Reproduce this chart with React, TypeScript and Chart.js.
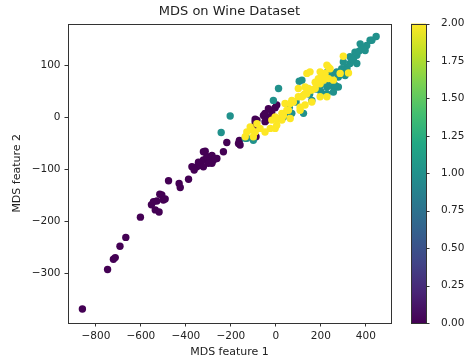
import React, { useEffect, useRef } from 'react';
import { Chart, registerables } from 'chart.js';

Chart.register(...registerables);

// ---- data ----
const classValues = [0, 1, 2];

const class0X = [-860, -748, -722, -714, -693, -667, -602, -553, -516, -536, -519, -529, -507, -500, -492, -544, -477, -430, -425, -388, -373, -351, -336, -322, -314, -300, -277, -284, -262, -233, -218, -166, -162, -92, -88, -92, -100, -55, -40, -25, -18, -3, 4, -48, -33, -344, -307, -363, -322, -284, -270, -300, -322, -159, -84, -48];
const class0Y = [-369, -293, -273, -270, -248, -231, -192, -168, -148, -178, -182, -161, -149, -159, -157, -162, -122, -127, -135, -119, -95, -95, -92, -82, -65, -76, -82, -88, -79, -66, -48, -50, -44, -3, -37, -8, -18, 4, -5, 1, 11, 19, 24, -8, 17, -86, -76, -101, -66, -73, -79, -88, -95, -53, -5, 8];

const class1X = [-203, -243, -129, -136, -100, 12, 104, -11, 123, 41, 71, 34, 160, 227, 271, 256, 446, 427, 404, 382, 360, 345, 330, 316, 293, 271, 249, 278, 375, 397, 352, 330, 300, 256, 278, 219, 197, 116, 256, 227, 419, 389, 316, 360, 227, 264, 308, 60, 90, 150, 180, 200, 240, 340, 370];
const class1Y = [3, -29, -40, -40, -44, 56, 70, 33, 8, 8, 8, 1, 33, 87, 59, 72, 156, 149, 139, 133, 120, 110, 104, 97, 94, 88, 85, 78, 142, 129, 126, 117, 107, 59, 59, 72, 62, 72, 49, 46, 149, 133, 91, 104, 59, 62, 81, 20, 30, 45, 55, 50, 70, 112, 128];

const class2X = [234, 41, 71, 100, 130, 152, 175, 197, 212, 234, 256, 286, 130, 108, 49, 27, 19, 64, -3, -25, -70, -107, -129, -100, -136, -92, -18, 4, 27, 34, 56, 64, 78, 108, 138, 145, 160, 182, 100, 116, 160, 197, 204, 219, -48, -3, 4, 300, 227, 241, 323, -84, -114, 138, 152, 197, 189, 175, 130, 123, 227];
const class2Y = [97, 27, 33, 40, 46, 53, 56, 65, 72, 75, 72, 85, 24, 14, 14, 8, -2, -2, 1, -21, -21, -24, -28, -37, -37, -28, -5, -2, -5, 4, 14, 27, 30, 20, 46, 56, 53, 65, 56, 40, 30, 40, 78, 85, -28, -21, -15, 118, 101, 94, 86, -12, -18, 85, 88, 88, 75, 68, 59, 43, 40];

const xTicks = [-800, -600, -400, -200, 0, 200, 400];
const yTicks = [-300, -200, -100, 0, 100];
const cbTicks = [0, 0.25, 0.5, 0.75, 1, 1.25, 1.5, 1.75, 2];
const xRange = [-924, 512];
const yRange = [-396, 181];
const cbRange = [0, 2];

const titleText = 'MDS on Wine Dataset';
const xLabel = 'MDS feature 1';
const yLabel = 'MDS feature 2';

const viridisStops = ['#440154', '#482475', '#414487', '#355f8d', '#2a788e', '#21918c', '#22a884', '#44bf70', '#7ad151', '#bddf26', '#fde725'];

// ---- helpers ----
function hexToRgb(h: string) {
  const n = parseInt(h.slice(1), 16);
  return [(n >> 16) & 255, (n >> 8) & 255, n & 255];
}
function viridis(t: number) {
  const c = Math.max(0, Math.min(1, t)) * (viridisStops.length - 1);
  const i = Math.min(Math.floor(c), viridisStops.length - 2);
  const f = c - i;
  const a = hexToRgb(viridisStops[i]);
  const b = hexToRgb(viridisStops[i + 1]);
  const m = a.map((v, k) => Math.round(v + (b[k] - v) * f));
  return `rgb(${m[0]},${m[1]},${m[2]})`;
}
const fmt = (v: number, dec: number) => (v < 0 ? '\u2212' : '') + Math.abs(v).toFixed(dec);
const toPoints = (xs: number[], ys: number[]) => xs.map((x, i) => ({ x, y: ys[i] }));

const FONT = 'DejaVu Sans';
const TEXT = '#222222';
const LINE = '#333333';

const frameAndColorbar = {
  id: 'frameAndColorbar',
  afterDatasetsDraw(chart: any) {
    const { ctx, chartArea: a } = chart;
    ctx.save();
    ctx.strokeStyle = LINE;
    ctx.lineWidth = 1;
    ctx.strokeRect(Math.round(a.left) + 0.5, Math.round(a.top) + 0.5, Math.round(a.right - a.left), Math.round(a.bottom - a.top));
    ctx.restore();
  },
  afterDraw(chart: any) {
    const { ctx, chartArea: a } = chart;
    const cb = chart.scales.cb;
    const top = cb.getPixelForValue(cbRange[1]);
    const bottom = cb.getPixelForValue(cbRange[0]);
    const x0 = a.right + 20;
    const w = 15;
    ctx.save();
    const g = ctx.createLinearGradient(0, bottom, 0, top);
    viridisStops.forEach((c, i) => g.addColorStop(i / (viridisStops.length - 1), c));
    ctx.fillStyle = g;
    ctx.fillRect(x0, top, w, bottom - top);
    ctx.strokeStyle = LINE;
    ctx.lineWidth = 1;
    ctx.strokeRect(Math.round(x0) + 0.5, Math.round(top) + 0.5, w, Math.round(bottom - top));
    ctx.beginPath();
    cbTicks.forEach((t) => {
      const y = Math.round(cb.getPixelForValue(t)) + 0.5;
      ctx.moveTo(x0 + w, y);
      ctx.lineTo(x0 + w + 3.5, y);
    });
    ctx.stroke();
    ctx.restore();
  },
};

export default function App() {
  const ref = useRef<HTMLCanvasElement | null>(null);

  useEffect(() => {
    if (!ref.current) return;
    const colors = classValues.map((v) => viridis((v - cbRange[0]) / (cbRange[1] - cbRange[0])));
    const series = [
      toPoints(class0X, class0Y),
      toPoints(class1X, class1Y),
      toPoints(class2X, class2Y),
    ];
    const chart = new Chart(ref.current, {
      type: 'scatter',
      data: {
        datasets: series.map((pts, i) => ({
          label: String(classValues[i]),
          data: pts,
          backgroundColor: colors[i],
          borderColor: colors[i],
          borderWidth: 0,
          pointRadius: 3.7,
          pointHoverRadius: 3.7,
          order: series.length - i,
        })),
      },
      options: {
        animation: false,
        responsive: false,
        devicePixelRatio: 1,
        events: [],
        layout: { padding: 0 },
        plugins: {
          legend: { display: false },
          tooltip: { enabled: false },
          title: {
            display: true,
            text: titleText,
            fullSize: false,
            color: TEXT,
            font: { family: FONT, size: 13, weight: 'normal' },
            padding: { top: 4, bottom: 4 },
          },
        },
        scales: {
          x: {
            type: 'linear',
            position: 'bottom',
            min: xRange[0],
            max: xRange[1],
            afterBuildTicks: (s: any) => { s.ticks = xTicks.map((value) => ({ value })); },
            afterFit: (s: any) => { s.height = 40; s.paddingLeft = 0; s.paddingRight = 0; },
            ticks: {
              autoSkip: false,
              maxRotation: 0,
              padding: 3.5,
              color: TEXT,
              font: { family: FONT, size: 10.5 },
              callback: (v: any) => fmt(Number(v), 0),
            },
            grid: { display: true, drawOnChartArea: false, drawTicks: true, tickLength: 3.5, tickColor: LINE, tickWidth: 1 },
            border: { display: false },
            title: { display: true, text: xLabel, color: TEXT, font: { family: FONT, size: 11 }, padding: { top: 0, bottom: 4.4 } },
          },
          y: {
            type: 'linear',
            position: 'left',
            min: yRange[0],
            max: yRange[1],
            afterBuildTicks: (s: any) => { s.ticks = yTicks.map((value) => ({ value })); },
            afterFit: (s: any) => { s.width = 68; s.paddingTop = 0; s.paddingBottom = 0; },
            ticks: {
              autoSkip: false,
              padding: 4,
              color: TEXT,
              font: { family: FONT, size: 10.5 },
              callback: (v: any) => fmt(Number(v), 0),
            },
            grid: { display: true, drawOnChartArea: false, drawTicks: true, tickLength: 3.5, tickColor: LINE, tickWidth: 1 },
            border: { display: false },
            title: { display: true, text: yLabel, color: TEXT, font: { family: FONT, size: 11 }, padding: { top: 10.4, bottom: 0 } },
          },
          cb: {
            type: 'linear',
            position: 'right',
            min: cbRange[0],
            max: cbRange[1],
            afterBuildTicks: (s: any) => { s.ticks = cbTicks.map((value) => ({ value })); },
            afterFit: (s: any) => { s.width = 83; s.paddingTop = 0; s.paddingBottom = 0; },
            ticks: {
              autoSkip: false,
              padding: 42,
              color: TEXT,
              font: { family: FONT, size: 10.5 },
              callback: (v: any) => fmt(Number(v), 2),
            },
            grid: { display: false },
            border: { display: false },
          },
        },
      } as any,
      plugins: [frameAndColorbar],
    });
    return () => chart.destroy();
  }, []);

  return (
    <div style={{ position: 'absolute', left: 0, top: 0, width: 474, height: 363, background: '#fff' }}>
      <canvas ref={ref} width={474} height={363} style={{ display: 'block' }} />
    </div>
  );
}
